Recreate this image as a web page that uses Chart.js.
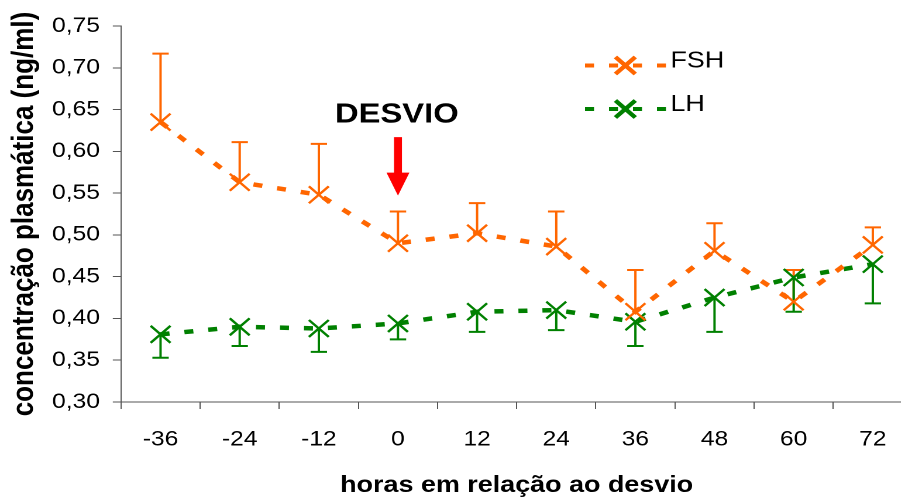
<!DOCTYPE html>
<html lang="pt">
<head>
<meta charset="utf-8">
<title>FSH e LH em relação ao desvio</title>
<script src="https://cdn.jsdelivr.net/npm/chart.js@4.4.1/dist/chart.umd.min.js"></script>
<style>
  html, body { margin: 0; padding: 0; background: #fff; overflow: hidden; }
  /* the original picture is a bit wider than its fonts, so stretch the whole chart */
  #wrap { width: 794px; height: 497px; transform: scaleX(1.17); transform-origin: 0 0; }
</style>
</head>
<body>
<div id="wrap"><canvas id="hormoneChart"></canvas></div>
<script>
// horas em relação ao desvio
const hours = ["-36", "-24", "-12", "0", "12", "24", "36", "48", "60", "72"];

// FSH (ng/ml) and its error bar (drawn upwards)
const fshMean = [0.635, 0.563, 0.548, 0.490, 0.502, 0.486, 0.408, 0.481, 0.420, 0.488];
const fshErr = [0.082, 0.048, 0.061, 0.038, 0.036, 0.042, 0.050, 0.033, 0.038, 0.021];

// LH (ng/ml) and its error bar (drawn downwards)
const lhMean = [0.381, 0.390, 0.388, 0.394, 0.408, 0.410, 0.396, 0.425, 0.449, 0.465];
const lhErr = [0.028, 0.023, 0.028, 0.019, 0.024, 0.024, 0.029, 0.041, 0.041, 0.047];

const yTickValues = [0.30, 0.35, 0.40, 0.45, 0.50, 0.55, 0.60, 0.65, 0.70, 0.75];

// "DESVIO" mark, in axis units
const desvioHour = "0";
const desvioTextAt = 0.6435;
const desvioArrowFrom = 0.617;
const desvioArrowTo = 0.547;

const ORANGE = "#FF6600";
const GREEN = "#008000";
const AXIS = "#555555";

Chart.defaults.font.family = "'Liberation Sans', Arial, sans-serif";
Chart.defaults.color = "#000";

// vertical error bars with small caps
const errorBars = {
  id: "errorBars",
  beforeDatasetsDraw(chart) {
    const ctx = chart.ctx;
    const xs = chart.scales.x;
    const ys = chart.scales.y;
    chart.data.datasets.forEach((ds) => {
      ctx.save();
      ctx.strokeStyle = ds.borderColor;
      ctx.lineWidth = 2;
      ds.data.forEach((v, i) => {
        const px = xs.getPixelForValue(i);
        const y0 = ys.getPixelForValue(v);
        const y1 = ys.getPixelForValue(v + ds.errDir * ds.errors[i]);
        ctx.beginPath();
        ctx.moveTo(px, y0);
        ctx.lineTo(px, y1);
        ctx.moveTo(px - 7, y1);
        ctx.lineTo(px + 7, y1);
        ctx.stroke();
      });
      ctx.restore();
    });
  },
};

// legend in the top right corner: dashed line, marker, label
const lineLegend = {
  id: "lineLegend",
  afterDraw(chart) {
    const ctx = chart.ctx;
    chart.data.datasets.forEach((ds, i) => {
      const x0 = 500;
      const yLine = 65.5 + i * 43.5;
      ctx.save();
      ctx.strokeStyle = ds.borderColor;
      ctx.lineWidth = 4;
      ctx.setLineDash([7.7, 12.8]);
      ctx.beginPath();
      ctx.moveTo(x0, yLine);
      ctx.lineTo(x0 + 69.5, yLine);
      ctx.stroke();
      ctx.setLineDash([]);
      Chart.helpers.drawPoint(ctx, { pointStyle: "crossRot", radius: 12, borderWidth: 2 }, x0 + 34.5, yLine);
      ctx.fillStyle = "#000";
      ctx.font = "23px 'Liberation Sans', Arial, sans-serif";
      ctx.textAlign = "left";
      ctx.textBaseline = "middle";
      ctx.fillText(ds.label, 573, yLine - 4.5);
      ctx.restore();
    });
  },
};

// "DESVIO" text and the red arrow
const desvioMark = {
  id: "desvioMark",
  afterDraw(chart) {
    const ctx = chart.ctx;
    const px = chart.scales.x.getPixelForValue(hours.indexOf(desvioHour));
    const ys = chart.scales.y;
    ctx.save();
    ctx.fillStyle = "#000";
    ctx.font = "bold 28px 'Liberation Sans', Arial, sans-serif";
    ctx.textAlign = "center";
    ctx.textBaseline = "middle";
    ctx.fillText("DESVIO", px - 1, ys.getPixelForValue(desvioTextAt));

    const top = ys.getPixelForValue(desvioArrowFrom);
    const tip = ys.getPixelForValue(desvioArrowTo);
    const headBase = tip - 23;
    ctx.fillStyle = "#FF0000";
    ctx.fillRect(px - 3.4, top, 6.8, headBase - top + 1);
    ctx.beginPath();
    ctx.moveTo(px - 9.8, headBase);
    ctx.lineTo(px + 9.8, headBase);
    ctx.lineTo(px, tip);
    ctx.closePath();
    ctx.fill();
    ctx.restore();
  },
};

function seriesStyle(color) {
  return {
    borderColor: color,
    backgroundColor: color,
    borderWidth: 4.5,
    borderDash: [7.7, 12.8],
    borderCapStyle: "butt",
    fill: false,
    tension: 0,
    pointStyle: "crossRot",
    pointRadius: 12,
    pointHoverRadius: 12,
    pointBorderWidth: 2.2,
    pointBorderColor: color,
  };
}

const ctx = document.getElementById("hormoneChart").getContext("2d");
const chart = new Chart(ctx, {
  type: "line",
  data: {
    labels: hours,
    datasets: [
      Object.assign({ label: "FSH", data: fshMean, errors: fshErr, errDir: 1 }, seriesStyle(ORANGE)),
      Object.assign({ label: "LH", data: lhMean, errors: lhErr, errDir: -1 }, seriesStyle(GREEN)),
    ],
  },
  options: {
    responsive: true,
    maintainAspectRatio: false,
    devicePixelRatio: 2,
    animation: false,
    layout: { padding: { top: 26, right: 0, bottom: 0, left: 0 } },
    plugins: {
      legend: { display: false },
      tooltip: { enabled: false },
    },
    scales: {
      x: {
        type: "category",
        offset: true,
        grid: { offset: true, drawOnChartArea: false, tickLength: 7, color: AXIS },
        border: { color: AXIS },
        ticks: { font: { size: 21 }, padding: 18, maxRotation: 0, autoSkip: false },
        title: {
          display: true,
          text: "horas em relação ao desvio",
          font: { size: 23, weight: "bold", lineHeight: 1 },
          padding: { top: 0, bottom: 0 },
        },
        afterFit(scale) {
          scale.height = 95;
        },
      },
      y: {
        min: 0.3,
        max: 0.75,
        grid: { drawOnChartArea: false, tickLength: 7, color: AXIS },
        border: { color: AXIS },
        ticks: {
          font: { size: 21 },
          padding: 11,
          callback: (v) => v.toFixed(2).replace(".", ","),
        },
        afterBuildTicks(scale) {
          scale.ticks = yTickValues.map((v) => ({ value: v }));
        },
        title: {
          display: true,
          text: "concentração plasmática (ng/ml)",
          font: { size: 26, weight: "bold" },
          padding: { top: 5, bottom: 0 },
        },
        afterFit(scale) {
          scale.width = 103.4;
        },
      },
    },
  },
  plugins: [errorBars, lineLegend, desvioMark],
});
</script>
</body>
</html>
